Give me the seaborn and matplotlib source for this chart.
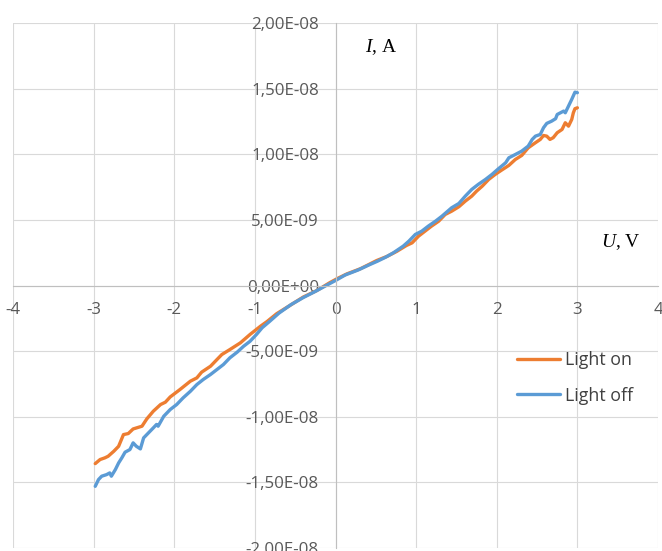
import numpy as np
import pandas as pd
import matplotlib
matplotlib.use("Agg")
import matplotlib.pyplot as plt
import seaborn as sns
from matplotlib.ticker import FuncFormatter, MultipleLocator

# -------------------------
# data, current in nA
# -------------------------
u_on = [-2.98, -2.92, -2.86, -2.82, -2.75, -2.69, -2.63, -2.57, -2.51, -2.40,
        -2.34, -2.26, -2.17, -2.11, -2.05, -1.93, -1.80, -1.72, -1.66, -1.55,
        -1.47, -1.41, -1.31, -1.18, -1.06, -0.93, -0.85, -0.73, -0.56, -0.40,
        -0.23, -0.07, 0.02, 0.14, 0.31, 0.43, 0.51, 0.64, 0.76, 0.88,
        0.95, 1.03, 1.11, 1.19, 1.28, 1.36, 1.44, 1.53, 1.61, 1.69,
        1.75, 1.82, 1.90, 1.98, 2.06, 2.15, 2.23, 2.31, 2.39, 2.48,
        2.54, 2.58, 2.62, 2.66, 2.70, 2.75, 2.81, 2.85, 2.89, 2.93,
        2.95, 2.97, 3.00]
i_on_nA = [-13.57, -13.26, -13.13, -13.01, -12.63, -12.25, -11.36, -11.28, -10.93, -10.72,
           -10.16, -9.58, -9.07, -8.89, -8.49, -7.93, -7.29, -7.04, -6.60, -6.15,
           -5.64, -5.26, -4.88, -4.37, -3.73, -3.10, -2.75, -2.15, -1.50, -0.88,
           -0.38, 0.22, 0.52, 0.88, 1.28, 1.65, 1.90, 2.22, 2.60, 3.05,
           3.25, 3.76, 4.14, 4.52, 4.90, 5.41, 5.66, 6.00, 6.43, 6.81,
           7.19, 7.57, 8.08, 8.46, 8.79, 9.15, 9.60, 9.91, 10.49, 10.88,
           11.13, 11.43, 11.38, 11.13, 11.26, 11.64, 11.89, 12.40, 12.14, 12.65,
           13.16, 13.47, 13.54]

u_off = [-2.98, -2.94, -2.90, -2.84, -2.80, -2.78, -2.73, -2.69, -2.65, -2.61,
         -2.55, -2.51, -2.47, -2.42, -2.38, -2.32, -2.26, -2.22, -2.20, -2.13,
         -2.05, -1.97, -1.89, -1.80, -1.72, -1.64, -1.55, -1.47, -1.39, -1.31,
         -1.22, -1.14, -1.06, -0.98, -0.91, -0.82, -0.70, -0.55, -0.40, -0.25,
         -0.10, 0.00, 0.12, 0.28, 0.42, 0.52, 0.62, 0.72, 0.84,
         0.91, 0.99, 1.07, 1.15, 1.24, 1.32, 1.44, 1.53, 1.61, 1.69,
         1.77, 1.86, 1.94, 2.02, 2.11, 2.15, 2.23, 2.31, 2.39, 2.44,
         2.48, 2.54, 2.58, 2.62, 2.68, 2.73, 2.75, 2.79, 2.83, 2.85,
         2.89, 2.93, 2.97, 3.00]
i_off_nA = [-15.30, -14.79, -14.53, -14.41, -14.28, -14.53, -14.02, -13.52, -13.13, -12.70,
            -12.50, -11.99, -12.25, -12.45, -11.61, -11.23, -10.85, -10.59, -10.72, -9.96,
            -9.45, -9.07, -8.56, -8.06, -7.55, -7.16, -6.78, -6.40, -6.02, -5.51,
            -5.08, -4.63, -4.25, -3.73, -3.22, -2.75, -2.10, -1.45, -0.92, -0.45,
            0.05, 0.38, 0.80, 1.18, 1.58, 1.85, 2.15, 2.50, 3.00,
            3.38, 3.89, 4.14, 4.52, 4.90, 5.28, 5.92, 6.25, 6.81, 7.32,
            7.70, 8.08, 8.46, 8.89, 9.35, 9.73, 9.98, 10.24, 10.62, 11.13,
            11.38, 11.51, 12.02, 12.35, 12.52, 12.71, 13.03, 13.16, 13.29, 13.16,
            13.67, 14.18, 14.73, 14.69]

series_names = ["Light on", "Light off"]
series_colors = ["#ED7D31", "#5B9BD5"]

df = pd.concat([
    pd.DataFrame({"U": u_on, "I": np.array(i_on_nA) * 1e-9, "series": series_names[0]}),
    pd.DataFrame({"U": u_off, "I": np.array(i_off_nA) * 1e-9, "series": series_names[1]}),
], ignore_index=True)

# -------------------------
# style
# -------------------------
sns.set_style("white")
plt.rcParams["font.family"] = ["Open Sans", "DejaVu Sans"]
plt.rcParams["mathtext.fontset"] = "custom"
plt.rcParams["mathtext.it"] = "Liberation Serif:italic"
plt.rcParams["mathtext.rm"] = "Liberation Serif"

fig = plt.figure(figsize=(6.62, 5.51), dpi=100)
ax = fig.add_axes([13 / 662, 3 / 551, 645 / 662, 525 / 551])

sns.lineplot(data=df, x="U", y="I", hue="series", hue_order=series_names,
             palette=series_colors, estimator=None, sort=False,
             linewidth=2.4, ax=ax)

ax.set_xlim(-4, 4)
ax.set_ylim(-2e-8, 2e-8)
ax.xaxis.set_major_locator(MultipleLocator(1))
ax.yaxis.set_major_locator(MultipleLocator(5e-9))
ax.yaxis.set_major_formatter(FuncFormatter(lambda v, p: f"{v:.2E}".replace(".", ",")))
ax.xaxis.set_major_formatter(FuncFormatter(lambda v, p: f"{v:.0f}"))

ax.grid(True, color="#d9d9d9", linewidth=0.8)
ax.set_axisbelow(True)

# axes cross at zero like the Excel chart
for side in ["left", "bottom"]:
    ax.spines[side].set_position(("data", 0))
    ax.spines[side].set_color("#bfbfbf")
    ax.spines[side].set_linewidth(0.8)
for side in ["top", "right"]:
    ax.spines[side].set_visible(False)

ax.tick_params(axis="both", length=0, labelsize=12.2, labelcolor="#595959")
ax.tick_params(axis="x", pad=12)
ax.tick_params(axis="y", pad=12)
ax.set_xlabel("")
ax.set_ylabel("")

ax.text(0.57, 1.82e-8, "$I$, A", family="Liberation Serif", fontsize=14,
        ha="center", va="center", color="black")
ax.text(3.54, 3.28e-9, "$U$, V", family="Liberation Serif", fontsize=14,
        ha="center", va="center", color="black")

ax.legend(loc="upper left", bbox_to_anchor=(0.757, 0.406), frameon=False,
          fontsize=12.8, handlelength=2.4, handletextpad=0.3, labelspacing=1.0,
          labelcolor="#404040", title=None)

fig.savefig("out.png", dpi=100)
